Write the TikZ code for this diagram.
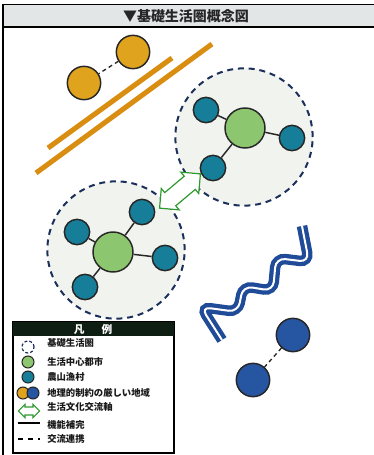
\documentclass[tikz,border=0pt]{standalone}
\usepackage{fontspec}
\newfontfamily\jpfont{Noto Sans CJK JP}
\usepackage{tikz}
\usetikzlibrary{shapes.arrows}
\definecolor{kenline}{HTML}{1B2F5A}
\definecolor{kenfill}{HTML}{F1F3EF}
\definecolor{toshigreen}{HTML}{8CC66E}
\definecolor{nosonteal}{HTML}{167E98}
\definecolor{chiriorange}{HTML}{E0A31E}
\definecolor{obiorange}{HTML}{D98E12}
\definecolor{chiriblue}{HTML}{2656A2}
\definecolor{yamablue}{HTML}{1F4B98}
\definecolor{jikugreen}{HTML}{2E9A2E}
\definecolor{titlegray}{HTML}{E2E6E7}
\definecolor{hanreibg}{HTML}{0E1E12}
\tikzset{
  ken/.style = {circle, draw=kenline, fill=kenfill, line width=1.5pt,
    dash pattern=on 4.5pt off 3.6pt, minimum size=103pt, inner sep=0pt},% kiso seikatsu ken
  toshi/.style = {circle, draw=black!85, fill=toshigreen, line width=1.1pt,
    minimum size=30pt, inner sep=0pt},% seikatsu chushin toshi
  noson/.style = {circle, draw=black!85, fill=nosonteal, line width=1.1pt,
    minimum size=19pt, inner sep=0pt},% nosangyoson
  chiri_o/.style = {circle, draw=black!85, fill=chiriorange, line width=1.1pt,
    minimum size=25pt, inner sep=0pt},% chiriteki seiyaku, orange
  chiri_b/.style = {circle, draw=black!85, fill=chiriblue, line width=1.1pt,
    minimum size=25pt, inner sep=0pt},% chiriteki seiyaku, blue
  link/.style = {line width=1.1pt, black!85},
  renkei/.style = {line width=1pt, black!85, dash pattern=on 3pt off 2.5pt},
  jiku/.style = {double arrow, draw=jikugreen, fill=white, line width=0.9pt,
    double arrow head extend=4pt},% seikatsu bunka koryu jiku
  obi/.style = {obiorange, line width=3.8pt},
  yama/.style = {yamablue, line width=3.2pt, double=white, double distance=1.5pt,
    rounded corners=7pt},
  hlabel/.style = {anchor=west, inner sep=0pt, text=black!90,
    font=\jpfont\bfseries\fontsize{7pt}{7pt}\selectfont}
}
\begin{document}
\begin{tikzpicture}[x=0.75pt, y=-0.75pt]
  \useasboundingbox (0,0) rectangle (374,455);
  % frame and title
  \fill[titlegray] (3,5) rectangle (374,26);
  \draw[line width=1.1pt] (3,4.5) -- (374,4.5);
  \draw[line width=1.4pt] (3,27) -- (374,27);
  \draw[line width=1.5pt] (3,4) -- (3,455);
  \node[font=\jpfont\bfseries\fontsize{10.5pt}{11pt}\selectfont, text=black!85]
    (title) at (186,16) {▼基礎生活圏概念図};

  % orange belt
  \draw[obi] (48,148) -- (172,58);
  \draw[obi] (36,173) -- (212,44);
  \node[chiri_o] (o1) at (133,52) {};
  \node[chiri_o] (o2) at (84,83) {};
  \draw[renkei] (o1) -- (o2);

  % two spheres
  \node[ken] (kenA) at (244,137) {};
  \node[ken] (kenB) at (116,250) {};

  \node[toshi] (tA) at (245,128) {};
  \node[noson] (nA1) at (206,110) {};
  \node[noson] (nA2) at (292,138) {};
  \node[noson] (nA3) at (213,168) {};
  \foreach \n in {nA1,nA2,nA3}
    \draw[link] (tA) -- (\n);

  \node[toshi] (tB) at (113,252) {};
  \node[noson] (nB1) at (77,232) {};
  \node[noson] (nB2) at (142,212) {};
  \node[noson] (nB3) at (165,258) {};
  \node[noson] (nB4) at (85,287) {};
  \foreach \n in {nB1,nB2,nB3,nB4}
    \draw[link] (tB) -- (\n);

  \node[jiku, rotate=40, minimum height=40pt, inner sep=6pt] (axis) at (180,191) {};

  % mountains and blue pair
  \draw[yama] (222,340) -- (201,307) -- (238,312) -- (243,286) -- (273,291)
    -- (276,258) -- (309,262) -- (302,226);
  \node[chiri_b] (b1) at (293,335) {};
  \node[chiri_b] (b2) at (253,380) {};
  \draw[renkei] (b1) -- (b2);

  % legend
  \draw[line width=1.4pt, fill=white] (13,322) rectangle (174,453);
  \fill[hanreibg] (13,322) rectangle (174,336);
  \node[text=white, font=\jpfont\bfseries\fontsize{8pt}{8pt}\selectfont]
    (hanrei) at (93,329) {凡\hspace{1.6em}例};

  \node[circle, draw=kenline, line width=0.9pt, dash pattern=on 2.2pt off 1.6pt,
    minimum size=9pt, inner sep=0pt] (k0) at (28,347) {};
  \node[hlabel] (k1) at (47,343) {基礎生活圏};
  \node[toshi, minimum size=9pt, line width=0.8pt] (k2s) at (28,362) {};
  \node[hlabel] (k2) at (47,362) {生活中心都市};
  \node[noson, minimum size=9pt, line width=0.8pt] (k3s) at (28,377) {};
  \node[hlabel] (k3) at (47,377) {農山漁村};
  \node[chiri_o, minimum size=9pt, line width=0.8pt] (k4o) at (23,393) {};
  \node[chiri_b, minimum size=9pt, line width=0.8pt] (k4b) at (33,393) {};
  \node[hlabel] (k4) at (47,393) {地理的制約の厳しい地域};
  \node[jiku, minimum height=16pt, inner sep=2.6pt, line width=0.8pt,
    double arrow head extend=2pt] (k5s) at (29,411) {};
  \node[hlabel] (k5) at (47,407) {生活文化交流軸};
  \coordinate (k6a) at (18,423);
  \coordinate (k6b) at (40,423);
  \draw[line width=1.6pt] (k6a) -- (k6b);
  \node[hlabel] (k6) at (47,425) {機能補完};
  \coordinate (k7a) at (18,439);
  \coordinate (k7b) at (40,439);
  \draw[line width=1.2pt, dash pattern=on 4pt off 3.5pt] (k7a) -- (k7b);
  \node[hlabel] (k7) at (47,439) {交流連携};
\end{tikzpicture}
\end{document}
